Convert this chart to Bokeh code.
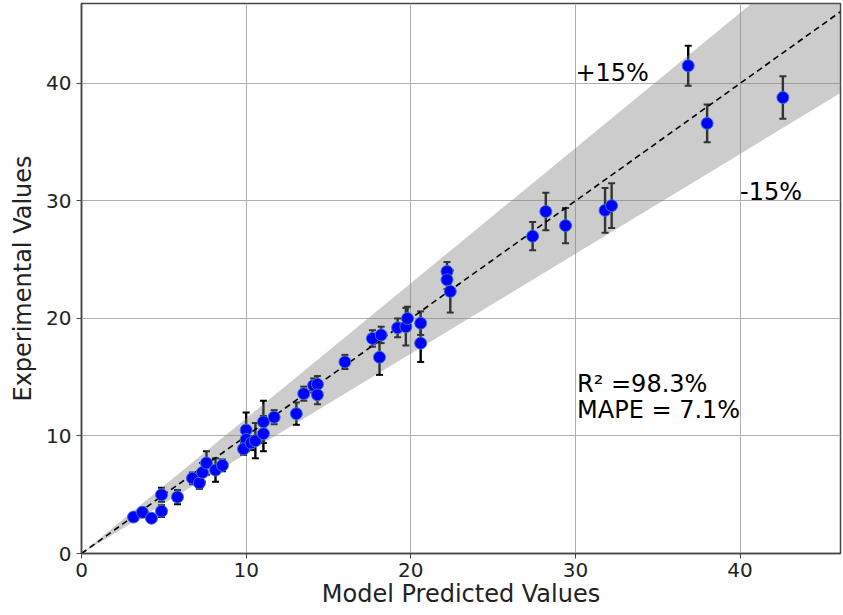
from bokeh.plotting import figure
from bokeh.models import Range1d, ColumnDataSource, Whisker, TeeHead, FixedTicker, Label
from bokeh.embed import file_html
from bokeh.resources import INLINE

# ---- data ----
predicted = [3.16, 3.70, 4.25, 4.86, 4.86, 5.83, 6.74, 7.16, 7.35, 7.59, 8.14, 8.56,
             10.0, 10.0, 9.84, 10.3, 10.56, 11.05, 11.05, 11.7, 13.05, 13.5, 14.1, 14.33, 14.33,
             16.0, 17.67, 18.2, 18.1, 19.2, 19.7, 19.8, 20.6, 20.6,
             22.2, 22.2, 22.4,
             27.4, 28.2, 29.4, 31.8, 32.2,
             36.85, 38.0, 42.6]
experimental = [3.1, 3.5, 3.0, 3.6, 5.0, 4.8, 6.4, 6.0, 6.9, 7.7, 7.1, 7.5,
                10.5, 9.7, 8.9, 9.4, 9.6, 11.2, 10.2, 11.6, 11.9, 13.6, 14.3, 14.4, 13.5,
                16.3, 18.3, 18.6, 16.7, 19.2, 19.3, 20.0, 19.6, 17.9,
                24.0, 23.3, 22.3,
                27.0, 29.1, 27.9, 29.2, 29.6,
                41.5, 36.6, 38.8]
error = [0.3, 0.4, 0.3, 0.5, 0.6, 0.6, 0.5, 0.5, 0.8, 1.0, 1.0, 0.5,
         1.5, 1.0, 0.5, 0.6, 1.5, 1.8, 1.5, 0.6, 0.95, 0.6, 0.6, 0.7, 0.8,
         0.6, 0.7, 0.7, 1.5, 0.8, 1.6, 1.0, 1.0, 1.6,
         0.8, 0.8, 1.8,
         1.2, 1.6, 1.5, 1.9, 1.9,
         1.7, 1.6, 1.8]
x_ticks = [0, 10, 20, 30, 40]
y_ticks = [0, 10, 20, 30, 40]
x_max = 46.1
y_max = 46.8
band_pct = 0.15
r2_text = "R\u00b2 =98.3%"
mape_text = "MAPE = 7.1%"

lower = [e - d for e, d in zip(experimental, error)]
upper = [e + d for e, d in zip(experimental, error)]
src = ColumnDataSource(dict(x=predicted, y=experimental, lo=lower, hi=upper))

FONT = "DejaVu Sans"

p = figure(width=842, height=610, output_backend="svg", toolbar_location=None,
           x_range=Range1d(0, x_max), y_range=Range1d(0, y_max),
           min_border_left=81, min_border_right=2, min_border_top=3, min_border_bottom=57)

# band and diagonal
line_x = [0, x_max]
p.varea(x=line_x, y1=[v * (1 - band_pct) for v in line_x], y2=[v * (1 + band_pct) for v in line_x],
        fill_color="gray", fill_alpha=0.4)
p.line(x=line_x, y=line_x, line_color="black", line_width=1.6, line_dash="6 4")

# error bars
w = Whisker(source=src, base="x", lower="lo", upper="hi", line_color="black", line_width=2.4,
            upper_head=TeeHead(size=7, line_color="black", line_width=2),
            lower_head=TeeHead(size=7, line_color="black", line_width=2))
p.add_layout(w)

p.scatter(x="x", y="y", source=src, size=12, fill_color="#0000ff", line_color="#3a6fd0", line_width=1)

# annotations
ANN = "24px"
p.add_layout(Label(x=30.0, y=40.9, text="+15%", text_font=FONT, text_font_size=ANN,
                   text_baseline="middle", text_color="black"))
p.add_layout(Label(x=40.0, y=30.8, text="-15%", text_font=FONT, text_font_size=ANN,
                   text_baseline="middle", text_color="black"))
p.add_layout(Label(x=30.1, y=14.4, text=r2_text, text_font=FONT, text_font_size=ANN,
                   text_baseline="middle", text_color="black"))
p.add_layout(Label(x=30.1, y=12.2, text=mape_text, text_font=FONT, text_font_size=ANN,
                   text_baseline="middle", text_color="black"))

# axes styling
p.xaxis.ticker = FixedTicker(ticks=x_ticks)
p.yaxis.ticker = FixedTicker(ticks=y_ticks)
p.xaxis.axis_label = "Model Predicted Values"
p.yaxis.axis_label = "Experimental Values"
for ax in (p.xaxis, p.yaxis):
    ax.axis_label_text_font = FONT
    ax.axis_label_text_font_style = "normal"
    ax.axis_label_text_font_size = "24px"
    ax.axis_label_text_color = "#222222"
    ax.major_label_text_font = FONT
    ax.major_label_text_font_size = "20px"
    ax.major_label_text_color = "#222222"
    ax.axis_line_color = "#444444"
    ax.axis_line_width = 1.5
    ax.major_tick_line_color = "#444444"
    ax.major_tick_out = 5
    ax.major_tick_in = 0
    ax.minor_tick_line_color = None
p.xaxis.axis_label_standoff = 0
p.xaxis.major_label_standoff = 4
p.yaxis.axis_label_standoff = 6

p.xgrid.grid_line_color = "#b0b0b0"
p.ygrid.grid_line_color = "#b0b0b0"
p.xgrid.grid_line_width = 1
p.ygrid.grid_line_width = 1
p.outline_line_color = "#444444"
p.outline_line_width = 1.5
p.background_fill_color = "white"
p.border_fill_color = "white"

open("out.html", "w").write(file_html(p, INLINE))
